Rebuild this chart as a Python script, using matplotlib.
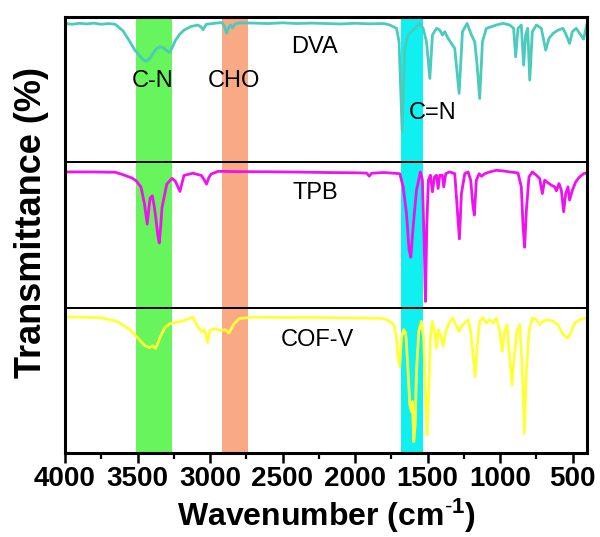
import matplotlib
matplotlib.use("Agg")
import matplotlib.pyplot as plt
from matplotlib.ticker import MultipleLocator
import numpy as np

plt.rcParams['font.family'] = ['Liberation Sans', 'DejaVu Sans']
plt.rcParams['mathtext.fontset'] = 'custom'
plt.rcParams['mathtext.rm'] = 'Liberation Sans'
plt.rcParams['mathtext.bf'] = 'Liberation Sans:bold'
plt.rcParams['mathtext.default'] = 'bf'

# ---------------- data (transmittance, panel-relative units 0..1) ----------------
dva_wn = [4000, 3950, 3900, 3850, 3800, 3750, 3700, 3654, 3600, 3559, 3520, 3488, 3460, 3440,
          3415, 3393, 3365, 3345, 3325, 3300, 3279, 3260, 3238, 3210, 3179, 3130, 3084, 3060,
          3048, 3035, 3025, 2980, 2940, 2918, 2900, 2886, 2870, 2858, 2845, 2830, 2798, 2700,
          2600, 2500, 2400, 2300, 2200, 2100, 2000, 1900, 1800,
          1760, 1714, 1696, 1675, 1657, 1634, 1599, 1553, 1530, 1507, 1484, 1466, 1438, 1415,
          1397, 1381, 1358, 1335, 1312, 1282, 1259, 1227, 1197, 1174, 1158, 1140, 1121, 1094,
          1059, 1025, 979, 933, 906, 892, 876, 853, 837, 823, 809, 795, 777, 749, 715, 685,
          662, 634, 600, 566, 543, 520, 501, 474, 451, 423, 405, 400]
dva_t = [0.955, 0.950, 0.957, 0.952, 0.958, 0.950, 0.955, 0.950, 0.905, 0.840, 0.775, 0.735,
         0.705, 0.695, 0.715, 0.750, 0.785, 0.795, 0.790, 0.770, 0.755, 0.790, 0.840, 0.880,
         0.910, 0.935, 0.945, 0.930, 0.912, 0.935, 0.950, 0.955, 0.960, 0.962, 0.935, 0.888,
         0.930, 0.945, 0.925, 0.950, 0.960, 0.958, 0.955, 0.960, 0.955, 0.958, 0.955, 0.952,
         0.957, 0.953, 0.955,
         0.945, 0.922, 0.830, 0.214, 0.784, 0.876, 0.910, 0.956, 0.922, 0.830, 0.577, 0.876,
         0.922, 0.910, 0.876, 0.899, 0.853, 0.818, 0.784, 0.474, 0.899, 0.956, 0.876, 0.830,
         0.669, 0.439, 0.830, 0.922, 0.933, 0.945, 0.956, 0.945, 0.922, 0.726, 0.922, 0.945,
         0.669, 0.876, 0.922, 0.566, 0.899, 0.945, 0.922, 0.772, 0.853, 0.887, 0.910, 0.922,
         0.876, 0.818, 0.899, 0.922, 0.887, 0.848, 0.933, 0.950]

tpb_wn = [4000, 3900, 3800, 3700, 3654, 3600, 3540, 3511, 3476, 3452, 3433, 3420, 3412, 3398,
          3385, 3374, 3360, 3350, 3340, 3331, 3298, 3262, 3239, 3207, 3190, 3179, 3119, 3060,
          3040, 3024, 3008, 2992, 2944, 2800, 2600, 2400, 2200, 2000, 1920, 1902, 1885, 1800,
          1760, 1691, 1668, 1645, 1627, 1615, 1599, 1576, 1549, 1535, 1523, 1514, 1505, 1494,
          1480, 1466, 1452, 1438, 1427, 1415, 1397, 1388, 1374, 1347, 1312, 1294, 1280, 1266,
          1243, 1220, 1202, 1186, 1177, 1163, 1144, 1128, 1105, 1071, 1025, 979, 933, 876,
          853, 841, 830, 818, 800, 777, 749, 726, 708, 692, 669, 646, 623, 611, 593, 577,
          561, 547, 531, 520, 501, 478, 451, 423, 405, 400]
tpb_t = [0.934, 0.934, 0.934, 0.932, 0.932, 0.915, 0.893, 0.875, 0.830, 0.715, 0.575, 0.700,
         0.755, 0.770, 0.700, 0.620, 0.500, 0.445, 0.560, 0.690, 0.850, 0.890, 0.870, 0.800,
         0.870, 0.910, 0.925, 0.910, 0.880, 0.850, 0.895, 0.920, 0.938, 0.936, 0.935, 0.933,
         0.930, 0.928, 0.926, 0.905, 0.925, 0.930,
         0.927, 0.922, 0.831, 0.648, 0.397, 0.347, 0.557, 0.808, 0.934, 0.877, 0.443, 0.043,
         0.557, 0.877, 0.911, 0.797, 0.900, 0.911, 0.820, 0.911, 0.911, 0.831, 0.922, 0.934,
         0.922, 0.671, 0.473, 0.785, 0.922, 0.934, 0.877, 0.694, 0.637, 0.877, 0.922, 0.904,
         0.922, 0.934, 0.945, 0.941, 0.934, 0.927, 0.831, 0.557, 0.416, 0.671, 0.900, 0.934,
         0.911, 0.888, 0.785, 0.877, 0.859, 0.843, 0.831, 0.804, 0.854, 0.808, 0.660, 0.785,
         0.831, 0.740, 0.808, 0.865, 0.900, 0.922, 0.927, 0.930]

cof_wn = [4000, 3900, 3800, 3749, 3680, 3631, 3559, 3500, 3452, 3416, 3398, 3374, 3345, 3310,
          3276, 3227, 3179, 3119, 3084, 3060, 3037, 3017, 3000, 2965, 2930, 2894, 2870, 2835,
          2798, 2703, 2500, 2300, 2100, 1900, 1801,
          1760, 1732, 1714, 1703, 1691, 1680, 1664, 1650, 1634, 1622, 1611, 1604, 1595, 1585,
          1576, 1560, 1542, 1526, 1512, 1503, 1491, 1480, 1466, 1450, 1438, 1425, 1404, 1392,
          1374, 1351, 1328, 1305, 1282, 1266, 1243, 1220, 1202, 1186, 1172, 1158, 1140, 1117,
          1094, 1071, 1048, 1025, 1002, 984, 968, 951, 933, 917, 901, 883, 864, 846, 832, 818,
          800, 777, 749, 726, 703, 669, 634, 600, 566, 531, 508, 485, 451, 405, 400]
cof_t = [0.936, 0.935, 0.932, 0.930, 0.915, 0.900, 0.855, 0.795, 0.740, 0.725, 0.738, 0.720,
         0.795, 0.865, 0.890, 0.900, 0.912, 0.935, 0.870, 0.835, 0.845, 0.760, 0.845, 0.855,
         0.842, 0.848, 0.825, 0.888, 0.925, 0.935, 0.932, 0.933, 0.930, 0.928, 0.925,
         0.906, 0.883, 0.791, 0.653, 0.595, 0.791, 0.848, 0.825, 0.561, 0.331, 0.285, 0.354,
         0.078, 0.193, 0.561, 0.837, 0.906, 0.791, 0.331, 0.124, 0.446, 0.791, 0.906, 0.825,
         0.722, 0.848, 0.791, 0.733, 0.837, 0.894, 0.929, 0.883, 0.837, 0.871, 0.894, 0.917,
         0.837, 0.676, 0.526, 0.722, 0.906, 0.933, 0.894, 0.917, 0.894, 0.929, 0.837, 0.699,
         0.837, 0.883, 0.653, 0.469, 0.676, 0.837, 0.883, 0.561, 0.136, 0.561, 0.837, 0.929,
         0.917, 0.883, 0.906, 0.917, 0.906, 0.883, 0.814, 0.791, 0.837, 0.894, 0.917, 0.929,
         0.930]

series_names = ['DVA', 'TPB', 'COF-V']
series_colors = ['#4ACBBC', '#EE12EE', '#FFFF38']

band_ranges = [(3510, 3265), (2920, 2735), (1685, 1530)]
band_colors = ['#66F55C', '#F9AA84', '#10F0F0']
band_labels = ['C-N', 'CHO', 'C=N']

xticks = [4000, 3500, 3000, 2500, 2000, 1500, 1000, 500]

# ---------------- figure ----------------
fig = plt.figure(figsize=(6.0, 5.37), dpi=100)
ax = fig.add_axes([65/600, 1-453/537, 522/600, 436/537])

for (a, b), c in zip(band_ranges, band_colors):
    ax.axvspan(b, a, color=c, lw=0, zorder=1)

data = [(dva_wn, dva_t), (tpb_wn, tpb_t), (cof_wn, cof_t)]
offsets = [2, 1, 0]
for (wn, t), off, col in zip(data, offsets, series_colors):
    ax.plot(wn, np.asarray(t) + off, color=col, lw=2.0, zorder=3, solid_joinstyle='round')

for yline in (1, 2):
    ax.axhline(yline, color='black', lw=1.4, zorder=4)

ax.set_xlim(4000, 400)
ax.set_ylim(0, 3)
ax.set_xticks(xticks)
ax.xaxis.set_minor_locator(MultipleLocator(250))
ax.set_yticks([])
ax.tick_params(axis='x', which='major', direction='out', length=7, width=1.8,
               labelsize=20, pad=2.5)
ax.tick_params(axis='x', which='minor', direction='out', length=4, width=1.6)
for lab in ax.get_xticklabels():
    lab.set_fontweight('bold')
for sp in ax.spines.values():
    sp.set_linewidth(2.2)
    sp.set_zorder(5)

# labels
ax.text(2277, 2.796, series_names[0], fontsize=17, ha='center', va='center', zorder=6)
ax.text(2277, 1.787, series_names[1], fontsize=17, ha='center', va='center', zorder=6)
ax.text(2260, 0.778, series_names[2], fontsize=17, ha='center', va='center', zorder=6)
ax.text(3394, 2.562, band_labels[0], fontsize=17, ha='center', va='center', zorder=6)
ax.text(2835, 2.562, band_labels[1], fontsize=17, ha='center', va='center', zorder=6)
ax.text(1464, 2.340, band_labels[2], fontsize=17, ha='center', va='center', zorder=6)

ax.set_xlabel(r'Wavenumber (cm$^{\text{-}1}$)', fontsize=23, fontweight='bold')
ax.xaxis.set_label_coords(0.5, (453-526)/436)
ax.xaxis.label.set_va('baseline')
ax.set_ylabel('Transmittance (%)', fontsize=26, fontweight='bold')
ax.yaxis.set_label_coords((32-65)/522, (453-222)/436)
ax.yaxis.label.set_va('center')

fig.savefig('out.png', dpi=100)
